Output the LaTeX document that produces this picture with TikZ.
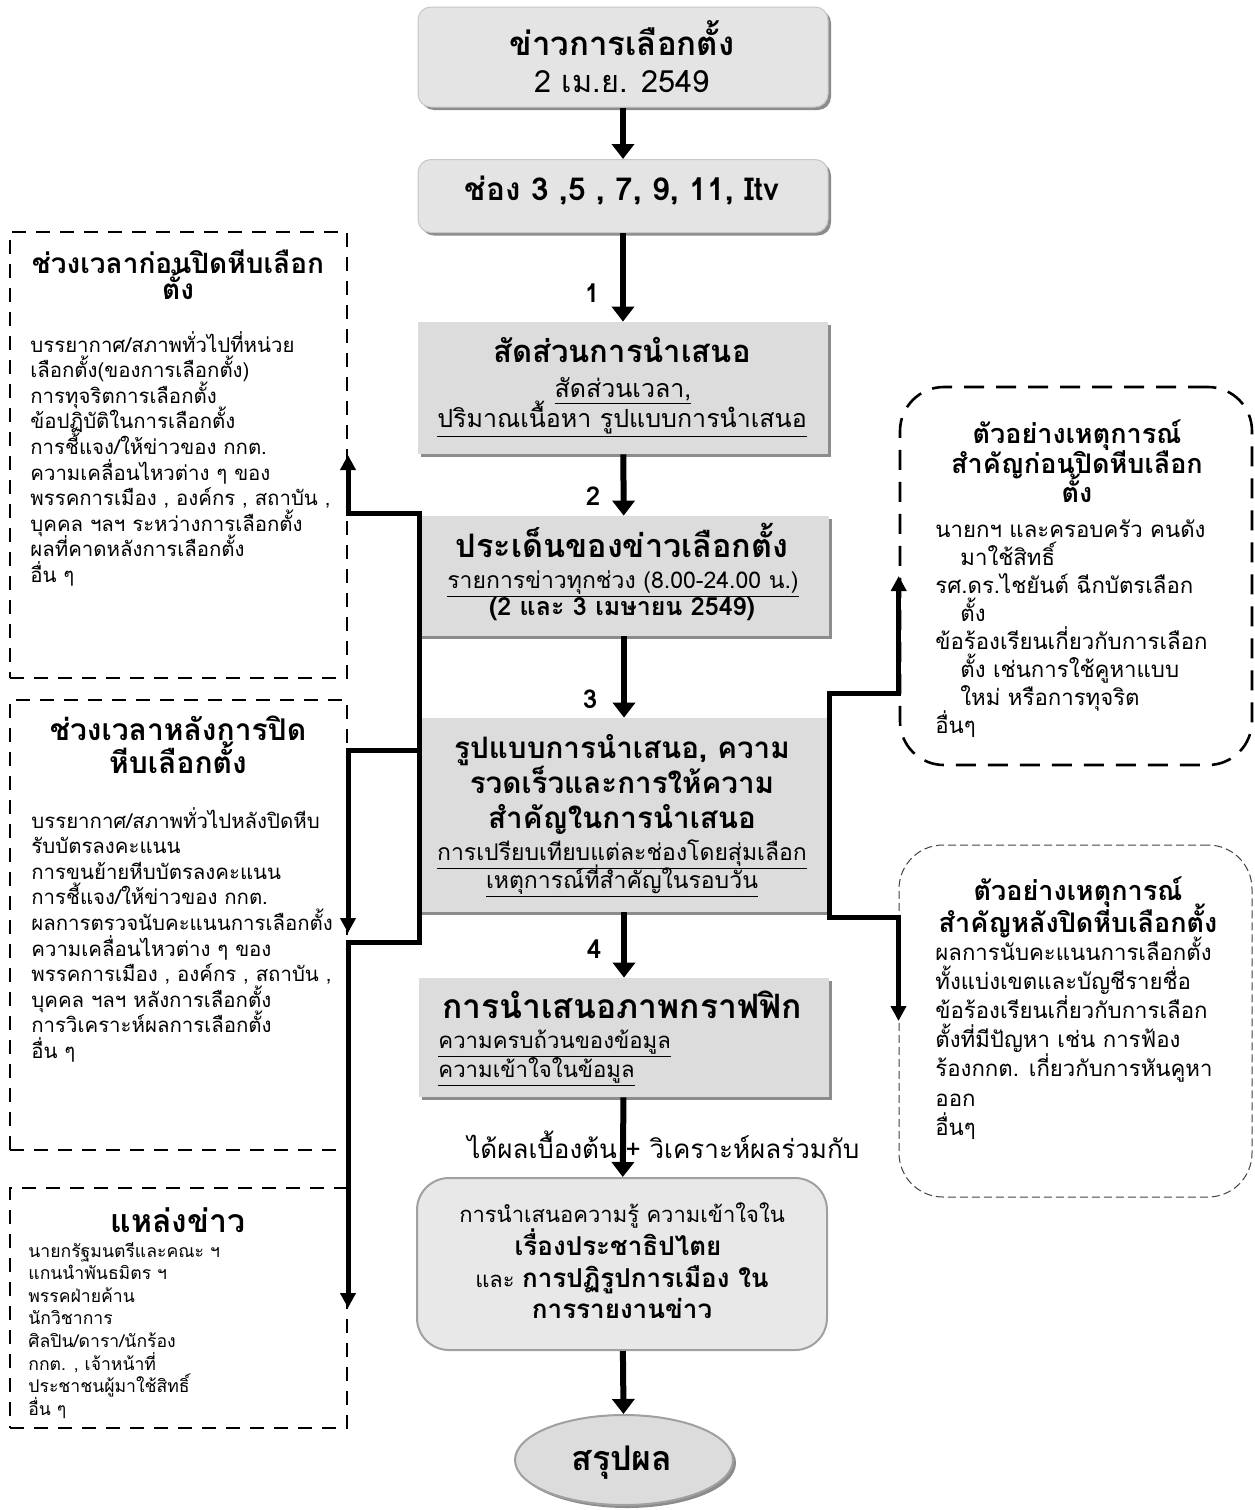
\documentclass[tikz,border=0pt]{standalone}
\usepackage{fontspec}
\setmainfont{Loma}[Script=Thai]
\usetikzlibrary{arrows.meta,shadows,shapes.geometric}
\definecolor{fillA}{HTML}{E4E4E4}
\definecolor{fillC}{HTML}{DCDCDC}
\definecolor{fillG}{HTML}{E8E8E8}
\definecolor{shadowc}{HTML}{8C8C8C}
\definecolor{edgeg}{HTML}{A0A0A0}
\newcommand{\tsz}[2]{\fontsize{#1}{#2}\selectfont}
\begin{document}
\begin{tikzpicture}[x=0.5pt,y=-0.5pt,
  myshadow/.style={drop shadow={shadow xshift=1.5pt,shadow yshift=-1.5pt,fill=shadowc,opacity=1}},
  roundbox/.style={draw=edgeg!60, line width=0.5pt, fill=fillA, rounded corners=6.5pt, minimum width=205pt, inner sep=0pt, myshadow},
  rectbox/.style={fill=fillC, minimum width=205pt, inner sep=0pt, myshadow},
  mainarrow/.style={line width=3pt, -{Triangle[width=11pt,length=7.5pt]}},
  conn/.style={line width=2.5pt, line cap=rect, -{Triangle[width=7.5pt,length=7.5pt]}},
  leftbox/.style={draw, line width=1pt, dash pattern=on 7pt off 5pt, minimum width=168.5pt, inner sep=0pt},
  tc/.style={inner sep=0pt, anchor=base},
  tl/.style={inner sep=0pt, anchor=base west},
  mtitle/.style={tc, font=\bfseries\tsz{15.5}{18}},
  msub/.style={tc, font=\tsz{12.5}{15}},
  numlab/.style={tc, font=\bfseries\tsz{13}{15}},
  lbody/.style={tl, font=\tsz{10.2}{12}},
  rbody/.style={tl, font=\tsz{11.1}{13}},
  rtitle/.style={tc, font=\bfseries\tsz{13.5}{15}}
]
\useasboundingbox (0,0) rectangle (1254,1510);

% ---------- main boxes ----------
\node[roundbox, minimum height=50pt] (A) at (623,57) {};
\node[roundbox, minimum height=36.5pt] (B) at (623,196) {};
\node[rectbox, minimum height=66pt] (C) at (623,388) {};
\node[rectbox, minimum height=60pt] (D) at (624,576) {};
\node[rectbox, minimum height=97pt] (E) at (624,815) {};
\node[rectbox, minimum height=59.5pt] (F) at (624,1037.5) {};
\node[draw=edgeg, line width=1pt, fill=fillG, rounded corners=16pt, minimum width=205pt, minimum height=86pt, inner sep=0pt] (G) at (622,1264) {};
\node[ellipse, draw=edgeg, line width=1pt, fill=fillC, minimum width=109pt, minimum height=45pt, inner sep=0pt, myshadow] (H) at (624,1460) {};

% texts of main boxes
\node[mtitle, font=\bfseries\tsz{16.5}{18}] (At) at (622,55) {ข่าวการเลือกตั้ง};
\node[tc, font=\tsz{15.3}{17}] (As) at (622,92) {2 เม.ย. 2549};
\node[mtitle, font=\bfseries\tsz{15.8}{18}] (Bt) at (622,200) {ช่อง 3 ,5 , 7, 9, 11, Itv};
\node[mtitle] (Ct) at (622,362) {สัดส่วนการนำเสนอ};
\node[msub] (Cs1) at (623,397) {\underline{สัดส่วนเวลา,}};
\node[msub] (Cs2) at (622,427) {\underline{ปริมาณเนื้อหา รูปแบบการนำเสนอ}};
\node[mtitle, font=\bfseries\tsz{16.2}{18}] (Dt) at (622,557) {ประเด็นของข่าวเลือกตั้ง};
\node[tc, font=\tsz{11.5}{14}] (Ds1) at (623,588) {\underline{รายการข่าวทุกช่วง (8.00-24.00 น.)}};
\node[tc, font=\bfseries\tsz{12.5}{15}] (Ds2) at (622,615) {(2 และ 3 เมษายน 2549)};
\node[mtitle, font=\bfseries\tsz{14.8}{18}] (Et1) at (622,758) {รูปแบบการนำเสนอ, ความ};
\node[mtitle, font=\bfseries\tsz{14.8}{18}] (Et2) at (622,793) {รวดเร็วและการให้ความ};
\node[mtitle, font=\bfseries\tsz{14.8}{18}] (Et3) at (622,828) {สำคัญในการนำเสนอ};
\node[tc, font=\tsz{11.5}{14}] (Es1) at (622,860) {\underline{การเปรียบเทียบแต่ละช่องโดยสุ่มเลือก}};
\node[tc, font=\tsz{11.5}{14}] (Es2) at (622,888) {\underline{เหตุการณ์ที่สำคัญในรอบวัน}};
\node[mtitle, font=\bfseries\tsz{16.8}{18}] (Ft) at (622,1018) {การนำเสนอภาพกราฟฟิก};
\node[tl, font=\tsz{11.1}{14}] (Fs1) at (438,1048) {\underline{ความครบถ้วนของข้อมูล}};
\node[tl, font=\tsz{11.1}{14}] (Fs2) at (438,1077) {\underline{ความเข้าใจในข้อมูล}};
\node[tc, font=\tsz{11}{14}] (Gl1) at (622,1222) {การนำเสนอความรู้ ความเข้าใจใน};
\node[tc, font=\bfseries\tsz{13}{15}] (Gl2) at (618,1255) {เรื่องประชาธิปไตย};
\node[tc, font=\tsz{11}{14}] (Gl3) at (622,1287) {และ {\bfseries\tsz{13}{15}การปฏิรูปการเมือง ใน}};
\node[tc, font=\bfseries\tsz{13}{15}] (Gl4) at (622,1318) {การรายงานข่าว};
\node[tc, font=\bfseries\tsz{17}{18}] (Ht) at (622,1470) {สรุปผล};
\node[tl, font=\tsz{13}{15}] (res) at (467,1158) {ได้ผลเบื้องต้น + วิเคราะห์ผลร่วมกับ};

% ---------- main arrows ----------
\draw[mainarrow] (A) -- (B);
\draw[mainarrow] (B) -- (C);
\draw[mainarrow] (C) -- (D);
\draw[mainarrow] (D) -- (E);
\draw[mainarrow] (E) -- (F);
\draw[mainarrow] (F) -- (G);
\draw[mainarrow] (G) -- (H);
\node[numlab] (n1) at (592,302) {1};
\node[numlab] (n2) at (593,505) {2};
\node[numlab] (n3) at (590,708) {3};
\node[numlab] (n4) at (594,958) {4};

% ---------- left boxes ----------
\node[leftbox, minimum height=223pt] (L1) at (178.5,455) {};
\node[leftbox, minimum height=225pt] (L2) at (178.5,925) {};
\node[leftbox, minimum height=120pt] (L3) at (178.5,1308) {};

\node[tc, font=\bfseries\tsz{14}{16}] (L1t1) at (178,273) {ช่วงเวลาก่อนปิดหีบเลือก};
\node[tc, font=\bfseries\tsz{14}{16}] (L1t2) at (178,299) {ตั้ง};
\foreach \t [count=\i from 0] in {บรรยากาศ/สภาพทั่วไปที่หน่วย, เลือกตั้ง(ของการเลือกตั้ง), การทุจริตการเลือกตั้ง, ข้อปฏิบัติในการเลือกตั้ง, การชี้แจง/ให้ข่าวของ กกต., ความเคลื่อนไหวต่าง ๆ ของ, {พรรคการเมือง , องค์กร , สถาบัน ,}, บุคคล ฯลฯ ระหว่างการเลือกตั้ง, ผลที่คาดหลังการเลือกตั้ง, อื่น ๆ}
  \node[lbody] (L1b\i) at (30,{352+25.6*\i}) {\t};

\node[tc, font=\bfseries\tsz{15}{17}] (L2t1) at (178,740) {ช่วงเวลาหลังการปิด};
\node[tc, font=\bfseries\tsz{15}{17}] (L2t2) at (178,773) {หีบเลือกตั้ง};
\foreach \t [count=\i from 0] in {บรรยากาศ/สภาพทั่วไปหลังปิดหีบ, รับบัตรลงคะแนน, การขนย้ายหีบบัตรลงคะแนน, การชี้แจง/ให้ข่าวของ กกต., ผลการตรวจนับคะแนนการเลือกตั้ง, ความเคลื่อนไหวต่าง ๆ ของ, {พรรคการเมือง , องค์กร , สถาบัน ,}, บุคคล ฯลฯ หลังการเลือกตั้ง, การวิเคราะห์ผลการเลือกตั้ง, อื่น ๆ}
  \node[lbody] (L2b\i) at (31,{828+25.6*\i}) {\t};

\node[tc, font=\bfseries\tsz{16}{18}] (L3t) at (178,1232) {แหล่งข่าว};
\foreach \t [count=\i from 0] in {นายกรัฐมนตรีและคณะ ฯ, แกนนำพันธมิตร ฯ, พรรคฝ่ายค้าน, นักวิชาการ, ศิลปิน/ดารา/นักร้อง, {กกต. , เจ้าหน้าที่}, ประชาชนผู้มาใช้สิทธิ์, อื่น ๆ}
  \node[tl, font=\tsz{8.8}{11}] (L3b\i) at (28,{1257+22.6*\i}) {\t};

% ---------- right boxes ----------
\node[draw, line width=1.3pt, dash pattern=on 10pt off 6pt, rounded corners=22pt, minimum width=176pt, minimum height=189pt, inner sep=0pt] (R1) at (1076,576) {};
\node[draw=black!75, line width=0.5pt, dash pattern=on 4pt off 2pt, rounded corners=22pt, minimum width=176.5pt, minimum height=176pt, inner sep=0pt] (R2) at (1075.5,1021) {};

\node[rtitle] (R1t1) at (1077,443) {ตัวอย่างเหตุการณ์};
\node[rtitle] (R1t2) at (1077,473) {สำคัญก่อนปิดหีบเลือก};
\node[rtitle] (R1t3) at (1077,502) {ตั้ง};
\node[rbody] (R1b1) at (935,537) {นายกฯ และครอบครัว คนดัง};
\node[rbody] (R1b2) at (960,565) {มาใช้สิทธิ์};
\node[rbody] (R1b3) at (935,593) {รศ.ดร.ไชยันต์ ฉีกบัตรเลือก};
\node[rbody] (R1b4) at (960,621) {ตั้ง};
\node[rbody] (R1b5) at (935,649) {ข้อร้องเรียนเกี่ยวกับการเลือก};
\node[rbody] (R1b6) at (960,677) {ตั้ง เช่นการใช้คูหาแบบ};
\node[rbody] (R1b7) at (960,705) {ใหม่ หรือการทุจริต};
\node[rbody] (R1b8) at (935,733) {อื่นๆ};

\node[rtitle] (R2t1) at (1078,900) {ตัวอย่างเหตุการณ์};
\node[rtitle] (R2t2) at (1078,932) {สำคัญหลังปิดหีบเลือกตั้ง};
\foreach \t [count=\i from 0] in {ผลการนับคะแนนการเลือกตั้ง, ทั้งแบ่งเขตและบัญชีรายชื่อ, ข้อร้องเรียนเกี่ยวกับการเลือก, ตั้งที่มีปัญหา เช่น การฟ้อง, ร้องกกต. เกี่ยวกับการหันคูหา, ออก, อื่นๆ}
  \node[rbody] (R2b\i) at (935,{960+29.2*\i}) {\t};

% ---------- connectors ----------
\coordinate (lsA) at (419,513);
\coordinate (lsB) at (419,750);
\coordinate (lsC) at (419,942);
\coordinate (rsA) at (829,693);
\coordinate (rsB) at (829,917);
\draw[conn] (lsC) -- (lsA) -| (L1.east);
\draw[conn] (lsB) -| ([yshift=-4pt]L2.east);
\draw[conn] (lsC) -| (L3.east);
\draw[conn] (rsB) -- (rsA) -| (R1.west);
\draw[conn] (rsB) -| (R2.west);
\end{tikzpicture}
\end{document}
